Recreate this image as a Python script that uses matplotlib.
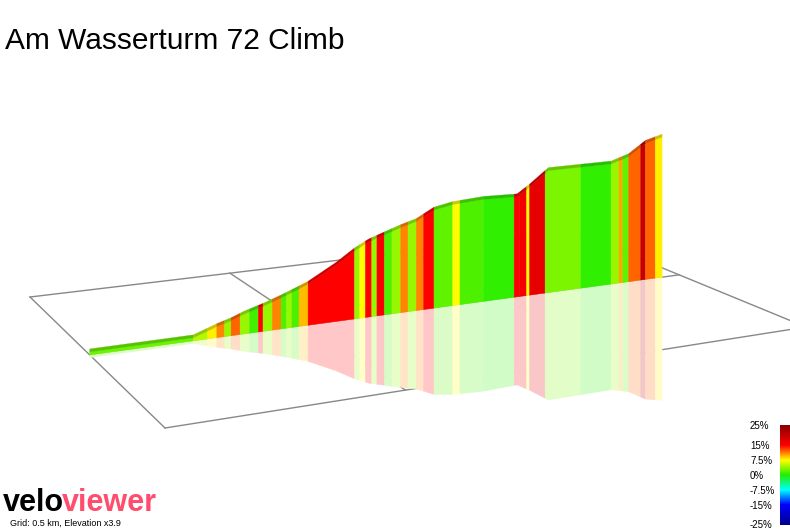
import numpy as np
import matplotlib
matplotlib.use("Agg")
import matplotlib.pyplot as plt
from matplotlib.colors import LinearSegmentedColormap, Normalize
from matplotlib.patches import Polygon

title = "Am Wasserturm 72 Climb"
# profile (km, elevation m)
prof_km = [0, .23, .284, .317, .349, .392, .435, .468, .5, .568, .614, .649, .689, .73, .77,
           .816, .865, .946, 1.037, 1.071, 1.123, 1.214, 1.30, 1.351, 1.40, 1.449]
prof_el = [151.5, 151.5, 155.5, 157.5, 160, 162.5, 165.5, 168, 170.5, 178, 184, 187.5, 190,
           192.5, 194.5, 199, 200.5, 201, 200, 204, 211, 210.5, 210, 212.5, 218, 220]
# gradient stripes
stripe_edges = [0, .23, .263, .284, .302, .317, .338, .36, .381, .392, .414, .435, .448, .461,
                .478, .5, .614, .627, .641, .657, .670, .689, .708, .730, .749, .770, .789,
                .816, .865, .884, .946, 1.029, 1.043, 1.063, 1.071, 1.114, 1.214, 1.30, 1.323,
                1.334, 1.351, 1.386, 1.40, 1.429, 1.449]
stripe_grad = [2.5, 5, 8, 11, 4, 12, 4, 1, 15, 4, 11, 1.5, 4, 1.5, 9.5, 15, 4, 7.5, 15, 4,
               15.5, 1.5, 4, 11, 4, 11, 15, 2, 7.5, 1.5, 0.5, 15, 16, 7.5, 17, 3, 0.5, 4,
               10, 2, 12, 20, 12, 8]
cbar_ticks = [25, 15, 7.5, 0, -7.5, -15, -25]
cbar_labels = ["25%", "15%", "7.5%", "0%", "-7.5%", "-15%", "-25%"]
grid_km = 0.5
base_el = 150
px_per_m = 2.0

cmap = LinearSegmentedColormap.from_list("grad", [
    (0.0, "#00008b"), (0.2, "#0000ff"), (0.35, "#00ffff"), (0.5, "#22ee00"),
    (0.65, "#ffff00"), (0.8, "#ff0000"), (1.0, "#8b0000")])
norm = Normalize(-25, 25)

# homography grid (u in cells, v in 0..2) -> pixels
src = [(0, 0), (3, 0), (0, 2), (3, 2)]
dst = [(30, 297), (575, 232), (165, 428), (806, 327)]
A = []
b = []
for (u, v), (x, y) in zip(src, dst):
    A.append([u, v, 1, 0, 0, 0, -u * x, -v * x]); b.append(x)
    A.append([0, 0, 0, u, v, 1, -u * y, -v * y]); b.append(y)
h = np.linalg.solve(np.array(A, float), np.array(b, float))
H = np.append(h, 1).reshape(3, 3)

def proj(u, v):
    p = H @ np.array([u, v, 1.0])
    return p[0] / p[2], p[1] / p[2]

fig = plt.figure(figsize=(7.9, 5.29), dpi=100)
ax = fig.add_axes([0, 0, 1, 1])
ax.set_xlim(0, 790); ax.set_ylim(529, 0); ax.axis("off")

gc = "#888888"
for v in [0, 1, 2]:
    pts = [proj(u, v) for u in np.linspace(0, 3, 30)]
    ax.plot(*zip(*pts), color=gc, lw=1, zorder=1)
for u in [0, 1, 2, 3]:
    pts = [proj(u, v) for v in np.linspace(0, 2, 30)]
    ax.plot(*zip(*pts), color=gc, lw=1, zorder=1)

def elev(km):
    return np.interp(km, prof_km, prof_el)

def sample(k0, k1):
    ks = [k for k in prof_km if k0 < k < k1]
    return [k0] + ks + [k1]

for i, g in enumerate(stripe_grad):
    k0, k1 = stripe_edges[i], stripe_edges[i + 1]
    ks = sample(k0, k1)
    col = np.array(cmap(norm(g))[:3])
    base = [proj(k / grid_km, 1) for k in ks]
    hts = [(elev(k) - base_el) * px_per_m for k in ks]
    top = [(x, y - hh) for (x, y), hh in zip(base, hts)]
    refl = [(x, y + hh * 0.88) for (x, y), hh in zip(base, hts)]
    ax.add_patch(Polygon(base + top[::-1], closed=True, fc=col, ec=col, lw=0.3, zorder=3))
    light = 1 - (1 - col) * 0.22
    ax.add_patch(Polygon(base + refl[::-1], closed=True, fc=light, ec=light, lw=0.3, zorder=2))
    dark = col * 0.8
    band = [(x, y - 3) for x, y in top]
    ax.add_patch(Polygon(top + band[::-1], closed=True, fc=dark, ec=dark, lw=0.2, zorder=4))

ax.text(5, 41, title, fontsize=21.5, va="center", ha="left", family="Liberation Sans")

grad_img = np.linspace(25, -25, 200).reshape(-1, 1)
ax.imshow(grad_img, cmap=cmap, norm=norm, extent=(780, 790, 525, 425), aspect="auto", zorder=5)
ypos = {25: 426, 15: 446, 7.5: 461, 0: 476, -7.5: 491, -15: 506, -25: 525}
for t, lab in zip(cbar_ticks, cbar_labels):
    ax.text(750, ypos[t], lab, fontsize=7, va="center", ha="left", family="Liberation Sans")

ax.text(3, 503, "velo", fontsize=22, fontweight="bold", color="black", va="center",
        family="Liberation Sans")
ax.text(62, 503, "viewer", fontsize=22, fontweight="bold", color="#ff4d6d", va="center",
        family="Liberation Sans")
ax.text(10, 523, "Grid: 0.5 km, Elevation x3.9", fontsize=6.5, va="center",
        family="Liberation Sans")

fig.savefig("out.png", dpi=100)
